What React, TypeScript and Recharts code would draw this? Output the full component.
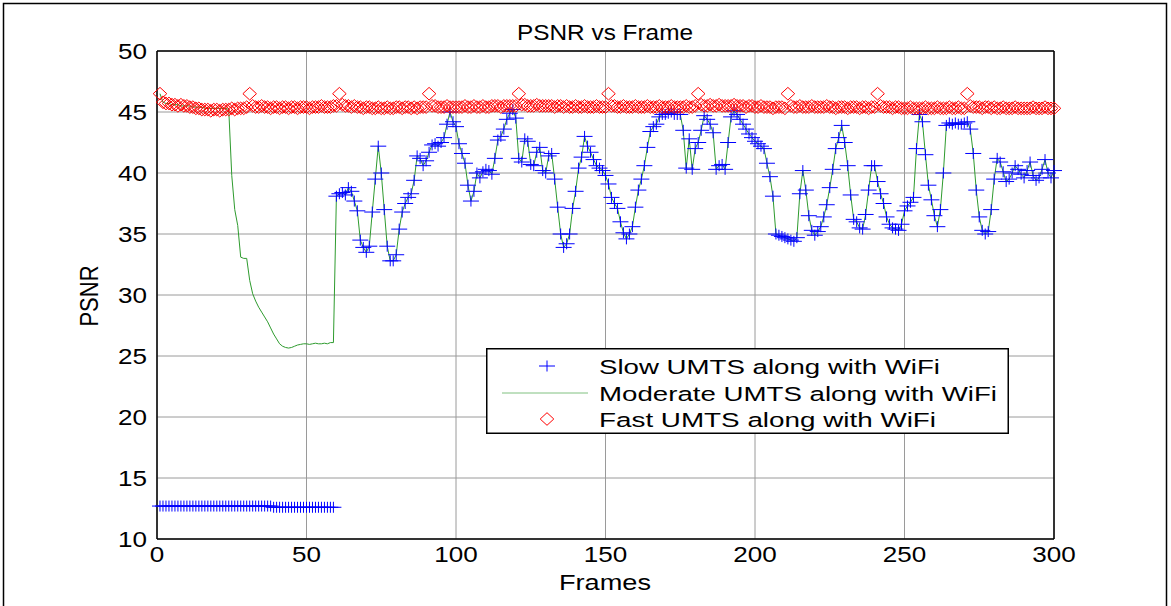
import React from 'react';
import { ComposedChart, Line, XAxis, YAxis, CartesianGrid, Legend } from 'recharts';

// PSNR of the slow UMTS + WiFi run, frames 1..300 (10 values per row)
const slow: number[] = [
  12.7, 12.7, 12.7, 12.7, 12.7, 12.7, 12.7, 12.7, 12.7, 12.7,
  12.7, 12.7, 12.7, 12.7, 12.7, 12.7, 12.7, 12.7, 12.7, 12.7,
  12.7, 12.7, 12.7, 12.7, 12.7, 12.7, 12.7, 12.7, 12.7, 12.7,
  12.7, 12.7, 12.7, 12.7, 12.7, 12.7, 12.7, 12.7, 12.6, 12.6,
  12.6, 12.6, 12.6, 12.6, 12.6, 12.6, 12.6, 12.6, 12.6, 12.6,
  12.6, 12.6, 12.6, 12.6, 12.6, 12.6, 12.6, 12.6, 12.6, 38.1,
  38.3, 38.4, 38.2, 38.8, 38.5, 37.7, 36.9, 34.5, 33.9, 33.5,
  34.0, 36.8, 39.5, 42.2, 40.0, 37.0, 34.0, 32.8, 32.8, 33.3,
  35.4, 36.8, 37.5, 38.0, 38.3, 39.4, 41.4, 41.2, 40.6, 41.0,
  41.7, 42.3, 42.4, 42.2, 42.5, 42.9, 44.0, 45.0, 44.2, 43.8,
  42.4, 41.6, 40.8, 39.0, 37.7, 38.5, 40.0, 39.6, 40.1, 40.3,
  40.2, 39.9, 41.2, 42.7, 43.0, 43.6, 44.4, 44.9, 45.2, 44.5,
  41.2, 40.9, 42.8, 42.6, 40.7, 40.6, 41.7, 42.1, 40.2, 40.0,
  41.4, 41.6, 39.5, 37.2, 35.0, 33.9, 34.2, 35.0, 37.1, 38.5,
  40.4, 41.3, 43.0, 42.2, 41.7, 41.1, 40.6, 40.4, 40.2, 39.8,
  39.1, 38.0, 37.5, 37.1, 36.0, 35.1, 34.6, 35.0, 35.6, 37.2,
  38.6, 39.5, 40.6, 42.1, 43.4, 43.8, 44.0, 44.6, 44.8, 44.8,
  44.9, 45.0, 44.8, 44.8, 44.8, 43.5, 40.4, 42.8, 40.3, 42.0,
  42.5, 43.5, 44.7, 44.4, 44.0, 43.3, 40.3, 40.6, 40.7, 40.3,
  42.5, 44.6, 45.1, 44.8, 44.4, 44.0, 43.6, 43.2, 42.9, 42.6,
  42.4, 42.2, 42.0, 40.8, 39.7, 38.1, 35.0, 34.9, 34.8, 34.7,
  34.6, 34.5, 34.4, 34.7, 38.3, 40.2, 38.6, 36.5, 35.3, 34.9,
  35.2, 35.6, 36.4, 37.4, 38.8, 40.3, 42.0, 42.9, 43.9, 42.5,
  40.6, 38.2, 36.2, 36.0, 35.5, 35.4, 36.6, 38.6, 40.6, 40.6,
  39.3, 38.3, 37.5, 36.4, 35.8, 35.5, 35.4, 35.3, 35.8, 36.9,
  37.3, 37.6, 38.0, 42.0, 44.8, 44.2, 41.5, 39.0, 37.8, 36.5,
  35.6, 37.0, 40.0, 43.9, 44.1, 44.0, 44.1, 44.0, 44.0, 44.1,
  44.2, 43.6, 41.6, 38.6, 36.4, 35.3, 35.0, 35.2, 37.0, 39.5,
  41.2, 40.9, 40.1, 39.3, 39.5, 40.0, 40.6, 40.3, 39.9, 39.6,
  40.2, 40.9, 39.8, 39.4, 39.6, 40.3, 41.1, 40.0, 39.6, 40.2,
];

// Moderate UMTS + WiFi, frames 1..59 (from frame 60 on it coincides with the slow run)
const moderateHead: number[] = [
  46.5, 45.8, 45.7, 45.7, 45.6, 45.6, 45.6, 45.5, 45.5, 45.5,
  45.5, 45.4, 45.4, 45.4, 45.4, 45.3, 45.3, 45.3, 45.3, 45.3,
  45.3, 45.3, 45.3, 45.2, 39.8, 37.0, 35.7, 33.1, 33.0, 33.0,
  31.2, 30.1, 29.5, 29.0, 28.6, 28.2, 27.8, 27.3, 26.8, 26.4,
  26.0, 25.8, 25.7, 25.65, 25.7, 25.8, 25.9, 25.95, 26.0, 26.0,
  25.95, 26.0, 26.05, 26.0, 26.0, 26.05, 26.0, 26.1, 26.1,
];

// Fast UMTS + WiFi, frames 1..300
const fast: number[] = [
  46.5, 45.8, 45.7, 45.7, 45.6, 45.6, 45.5, 45.6, 45.5, 45.5,
  45.4, 45.4, 45.3, 45.3, 45.2, 45.2, 45.2, 45.1, 45.2, 45.2,
  45.1, 45.2, 45.2, 45.2, 45.3, 45.2, 45.3, 45.3, 45.3, 45.4,
  46.5, 45.5, 45.4, 45.4, 45.5, 45.4, 45.4, 45.3, 45.4, 45.4,
  45.3, 45.4, 45.4, 45.3, 45.4, 45.4, 45.3, 45.4, 45.4, 45.4,
  45.3, 45.4, 45.4, 45.4, 45.5, 45.4, 45.4, 45.4, 45.5, 45.5,
  46.5, 45.6, 45.5, 45.5, 45.4, 45.5, 45.4, 45.4, 45.3, 45.4,
  45.4, 45.3, 45.3, 45.4, 45.3, 45.3, 45.4, 45.3, 45.3, 45.4,
  45.4, 45.3, 45.4, 45.4, 45.3, 45.4, 45.3, 45.4, 45.4, 45.4,
  46.5, 45.5, 45.5, 45.4, 45.4, 45.4, 45.5, 45.4, 45.4, 45.4,
  45.4, 45.4, 45.5, 45.4, 45.4, 45.5, 45.4, 45.4, 45.5, 45.4,
  45.4, 45.5, 45.5, 45.5, 45.4, 45.5, 45.5, 45.5, 45.5, 45.5,
  46.5, 45.6, 45.6, 45.5, 45.5, 45.5, 45.6, 45.5, 45.5, 45.5,
  45.5, 45.5, 45.4, 45.5, 45.5, 45.4, 45.5, 45.4, 45.4, 45.5,
  45.4, 45.4, 45.5, 45.4, 45.4, 45.4, 45.5, 45.4, 45.4, 45.4,
  46.5, 45.5, 45.5, 45.4, 45.4, 45.5, 45.4, 45.4, 45.4, 45.5,
  45.4, 45.4, 45.4, 45.5, 45.4, 45.4, 45.4, 45.5, 45.4, 45.4,
  45.4, 45.5, 45.4, 45.4, 45.4, 45.4, 45.5, 45.4, 45.4, 45.5,
  46.5, 45.6, 45.5, 45.5, 45.6, 45.5, 45.5, 45.6, 45.5, 45.5,
  45.5, 45.5, 45.6, 45.5, 45.5, 45.5, 45.4, 45.5, 45.5, 45.4,
  45.4, 45.5, 45.4, 45.4, 45.4, 45.3, 45.4, 45.4, 45.4, 45.3,
  46.5, 45.5, 45.4, 45.4, 45.5, 45.4, 45.4, 45.4, 45.5, 45.4,
  45.4, 45.4, 45.4, 45.5, 45.4, 45.4, 45.3, 45.4, 45.4, 45.4,
  45.3, 45.4, 45.4, 45.4, 45.3, 45.4, 45.4, 45.3, 45.4, 45.4,
  46.5, 45.5, 45.4, 45.4, 45.4, 45.3, 45.4, 45.4, 45.3, 45.3,
  45.3, 45.4, 45.3, 45.3, 45.3, 45.3, 45.4, 45.3, 45.3, 45.3,
  45.4, 45.3, 45.3, 45.3, 45.4, 45.3, 45.3, 45.4, 45.3, 45.3,
  46.5, 45.5, 45.4, 45.4, 45.4, 45.3, 45.4, 45.4, 45.3, 45.4,
  45.3, 45.3, 45.4, 45.3, 45.3, 45.3, 45.4, 45.3, 45.3, 45.3,
  45.3, 45.3, 45.4, 45.3, 45.3, 45.3, 45.4, 45.3, 45.3, 45.3,
];

const xTicks = [0, 50, 100, 150, 200, 250, 300];
const yTicks = [10, 15, 20, 25, 30, 35, 40, 45, 50];
const seriesNames = {
  slow: 'Slow UMTS along with WiFi',
  moderate: 'Moderate UMTS along with WiFi',
  fast: 'Fast UMTS along with WiFi',
};

const data = slow.map((s, i) => ({
  frame: i + 1,
  slow: s,
  moderate: i < moderateHead.length ? moderateHead[i] : s,
  fast: fast[i],
}));

const FONT = "'Liberation Sans', Arial, Helvetica, sans-serif";
const BLUE = '#0000ff';
const GREEN = '#2e9b2e';
const RED = '#ff0000';

const plusPath = (cx: number, cy: number) =>
  `M${cx - 8},${cy}H${cx + 8}M${cx},${cy - 5.5}V${cy + 5.5}`;
const diamondPath = (cx: number, cy: number) =>
  `M${cx},${cy - 6.3}L${cx + 6.8},${cy}L${cx},${cy + 6.3}L${cx - 6.8},${cy}Z`;

const PlusDot = (props: any) => {
  const { cx, cy, index } = props;
  if (cx == null || cy == null) return <g key={`s${index}`} />;
  return <path key={`s${index}`} d={plusPath(cx, cy)} stroke={BLUE} strokeWidth={1} fill="none" />;
};

const DiamondDot = (props: any) => {
  const { cx, cy, index } = props;
  if (cx == null || cy == null) return <g key={`f${index}`} />;
  return <path key={`f${index}`} d={diamondPath(cx, cy)} stroke={RED} strokeWidth={1} fill="none" />;
};

const XTick = (props: any) => {
  const { x, y, payload } = props;
  const label = String(payload.value);
  return (
    <text x={x} y={y + 23} textAnchor="middle" fontFamily={FONT} fontSize={22} fill="#000"
      textLength={label.length * 14.5} lengthAdjust="spacingAndGlyphs">
      {label}
    </text>
  );
};

const YTick = (props: any) => {
  const { x, y, payload } = props;
  const label = String(payload.value);
  const w = label.length * 14.5;
  return (
    <text x={x - 10 - w} y={y + 8} textAnchor="start" fontFamily={FONT} fontSize={22} fill="#000"
      textLength={w} lengthAdjust="spacingAndGlyphs">
      {label}
    </text>
  );
};

const renderLegend = () => {
  const rows = [
    { y: 18, name: seriesNames.slow, w: 341, kind: 'plus' },
    { y: 45, name: seriesNames.moderate, w: 398, kind: 'line' },
    { y: 71, name: seriesNames.fast, w: 337, kind: 'diamond' },
  ];
  return (
    <svg width={524} height={88} style={{ display: 'block' }}>
      <rect x={0.75} y={0.75} width={521.5} height={84.5} fill="#fff" stroke="#000" strokeWidth={1.5} />
      {rows.map((r) => (
        <g key={r.name}>
          {r.kind === 'plus' && <path d={plusPath(61, r.y)} stroke={BLUE} strokeWidth={1} fill="none" />}
          {r.kind === 'line' && <line x1={16} x2={102} y1={r.y} y2={r.y} stroke={GREEN} strokeWidth={1} opacity={0.6} />}
          {r.kind === 'diamond' && <path d={diamondPath(61, r.y)} stroke={RED} strokeWidth={1} fill="none" />}
          <text x={113} y={r.y + 7.5} fontFamily={FONT} fontSize={20.5} fill="#000"
            textLength={r.w} lengthAdjust="spacingAndGlyphs">{r.name}</text>
        </g>
      ))}
    </svg>
  );
};

export default function App() {
  return (
    <div style={{ position: 'absolute', left: 0, top: 0, width: 1171, height: 606, background: '#fff' }}>
      <ComposedChart width={1171} height={606} data={data}
        margin={{ top: 51, right: 117, bottom: 0, left: 0 }}>
        <CartesianGrid stroke="#9a9a9a" strokeWidth={1} />
        <XAxis dataKey="frame" type="number" domain={[0, 300]} ticks={xTicks} interval={0}
          height={67} tickLine={false} tickSize={0} tickMargin={0}
          axisLine={{ stroke: '#000', strokeWidth: 1.5 }} tick={<XTick />} />
        <XAxis xAxisId="bottomTicks" type="number" domain={[0, 300]} ticks={xTicks} interval={0}
          orientation="bottom" mirror allowDataOverflow tick={false} tickSize={5}
          tickLine={{ stroke: '#000' }} axisLine={false} />
        <XAxis xAxisId="topTicks" type="number" domain={[0, 300]} ticks={xTicks} interval={0}
          orientation="top" mirror allowDataOverflow tick={false} tickSize={5}
          tickLine={{ stroke: '#000' }} axisLine={{ stroke: '#000', strokeWidth: 1.5 }} />
        <YAxis type="number" domain={[10, 50]} ticks={yTicks} interval={0} width={157}
          tickLine={false} tickSize={0} tickMargin={0}
          axisLine={{ stroke: '#000', strokeWidth: 1.5 }} tick={<YTick />} />
        <YAxis yAxisId="leftTicks" type="number" domain={[10, 50]} ticks={yTicks} interval={0}
          orientation="left" mirror allowDataOverflow tick={false} tickSize={5}
          tickLine={{ stroke: '#000' }} axisLine={false} />
        <YAxis yAxisId="rightTicks" type="number" domain={[10, 50]} ticks={yTicks} interval={0}
          orientation="right" mirror allowDataOverflow tick={false} tickSize={5}
          tickLine={{ stroke: '#000' }} axisLine={{ stroke: '#000', strokeWidth: 1.5 }} />
        <Legend layout="vertical" align="center" verticalAlign="middle"
          wrapperStyle={{ left: 486, top: 348, width: 524, height: 88 }} content={renderLegend} />
        <Line dataKey="slow" name={seriesNames.slow} stroke="none" dot={PlusDot} activeDot={false}
          isAnimationActive={false} />
        <Line dataKey="moderate" name={seriesNames.moderate} stroke={GREEN} strokeWidth={1} dot={false}
          activeDot={false} isAnimationActive={false} />
        <Line dataKey="fast" name={seriesNames.fast} stroke="none" dot={DiamondDot} activeDot={false}
          isAnimationActive={false} />
      </ComposedChart>
      <svg width={1171} height={606} style={{ position: 'absolute', left: 0, top: 0, pointerEvents: 'none' }}>
        <path d="M3.5,606V3.5H1166.5V606" fill="none" stroke="#000" strokeWidth={1.5} />
        <text x={605} y={40} textAnchor="middle" fontFamily={FONT} fontSize={22} fill="#000"
          textLength={176} lengthAdjust="spacingAndGlyphs">PSNR vs Frame</text>
        <text x={605} y={590} textAnchor="middle" fontFamily={FONT} fontSize={22} fill="#000"
          textLength={92} lengthAdjust="spacingAndGlyphs">Frames</text>
        <text transform="translate(98,296) scale(1.2,1) rotate(-90)" textAnchor="middle"
          fontFamily={FONT} fontSize={22} fill="#000">PSNR</text>
      </svg>
    </div>
  );
}
